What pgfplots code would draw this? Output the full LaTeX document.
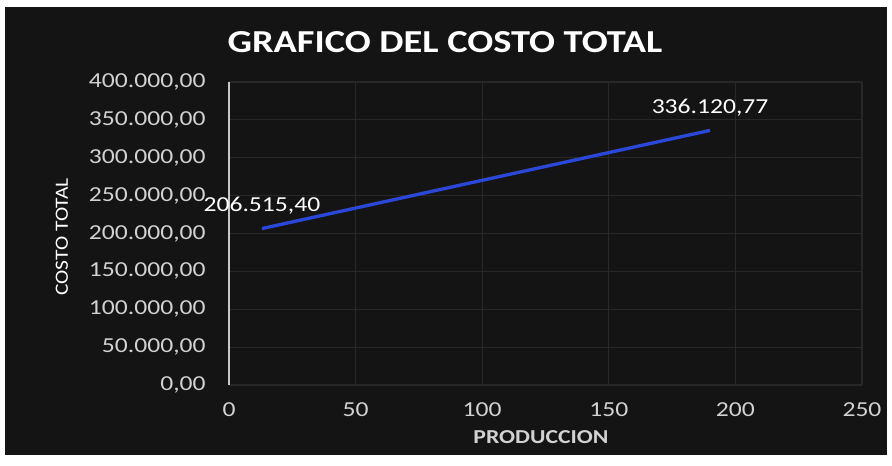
\documentclass[border=0pt]{standalone}
\usepackage{fontspec}
\setmainfont{Carlito}[FakeStretch=1.2]
\newfontfamily\plainfont{Carlito}[FakeStretch=1.15]
\usepackage{pgfplots}
\pgfplotsset{compat=1.18}
\definecolor{bgdark}{HTML}{141414}
\definecolor{gridc}{HTML}{282828}
\definecolor{ticktxt}{HTML}{D2D2D2}
\definecolor{axisc}{HTML}{C8C8C8}
\definecolor{lineblue}{HTML}{2A47D8}

\begin{document}
\begin{tikzpicture}
% 1px = 0.75pt, axis origin = pixel (229,385)
\fill[white] (-171.75pt,-60.75pt) rectangle (497.25pt,288.75pt);
\fill[bgdark] (-168pt,-52.5pt) rectangle (493.5pt,283.5pt);

\begin{axis}[
scale only axis,
width=474.75pt,
height=227.25pt,
xmin=0, xmax=250,
ymin=0, ymax=400000,
xtick={0,50,...,250},
ytick={0,50000,...,400000},
grid=major,
major grid style={gridc, line width=0.8pt},
axis y line*=left,
axis x line*=bottom,
x axis line style={draw=none},
y axis line style={axisc, line width=1.5pt, -},
major tick length=0pt,
tick label style={font=\fontsize{16}{18}\selectfont, text=ticktxt},
xticklabel style={yshift=-9.5pt},
yticklabel style={xshift=-14pt},
/pgf/number format/assume math mode=true,
y tick label style={/pgf/number format/.cd, fixed, fixed zerofill, precision=2, 1000 sep={.}, use comma},
scaled y ticks=false,
clip=false,
]
\addplot[lineblue, line width=2.5pt,
  nodes near coords, point meta=explicit symbolic,
  every node near coord/.append style={anchor=center, yshift=17.25pt, text=white, font=\fontsize{16}{18}\selectfont}]
coordinates {
(13,206515.40) [{206.515,40}]
(190,336120.77) [{336.120,77}]
};
\end{axis}

\node[text=white, font=\bfseries\fontsize{24}{28}\selectfont] at (162pt,257.25pt) {GRAFICO DEL COSTO TOTAL};
\node[text=white, rotate=90, font=\plainfont\fontsize{14}{16}\selectfont] at (-125.25pt,111pt) {COSTO TOTAL};
\node[text=ticktxt, font=\bfseries\fontsize{14.8}{17}\selectfont] at (234pt,-39pt) {PRODUCCION};
\end{tikzpicture}
\end{document}
